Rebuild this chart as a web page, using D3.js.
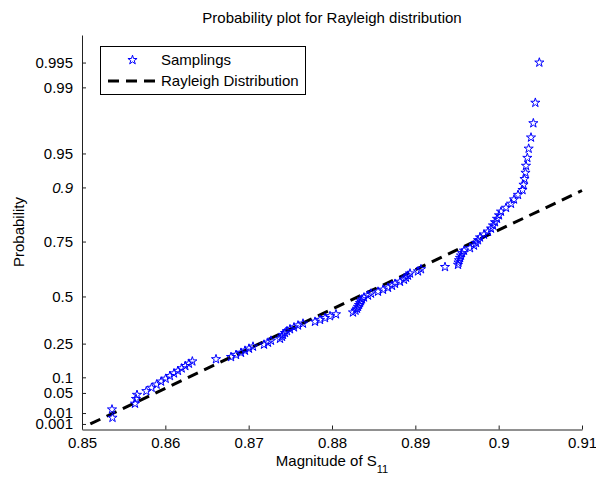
<!DOCTYPE html>
<html>
<head>
<meta charset="utf-8">
<script src="https://cdn.jsdelivr.net/npm/d3@7"></script>
<style>
  body { margin: 0; background: #fff; }
  text { font-family: "Liberation Sans", Arial, sans-serif; }
</style>
</head>
<body>
<div id="chart"></div>
<script>
// sorted sample magnitudes |S11| (100 samplings)
var magnitudes = [
  0.85366, 0.85360, 0.85636, 0.85648, 0.85660, 0.85772, 0.85835, 0.85895, 0.85949, 0.86004,
  0.86055, 0.86104, 0.86151, 0.86196, 0.86240, 0.86283, 0.86324, 0.86608, 0.86788, 0.86848,
  0.86908, 0.86956, 0.87004, 0.87052, 0.87184, 0.87232, 0.87268, 0.87376, 0.87400, 0.87412,
  0.87436, 0.87460, 0.87496, 0.87544, 0.87592, 0.87652, 0.87796, 0.87856, 0.87916, 0.87976,
  0.88048, 0.88252, 0.88282, 0.88300, 0.88312, 0.88324, 0.88336, 0.88348, 0.88360, 0.88384,
  0.88432, 0.88468, 0.88552, 0.88612, 0.88672, 0.88720, 0.88756, 0.88816, 0.88864, 0.88888,
  0.88912, 0.88936, 0.89032, 0.89068, 0.89356, 0.89512, 0.89518, 0.89524, 0.89536, 0.89548,
  0.89560, 0.89584, 0.89656, 0.89704, 0.89728, 0.89752, 0.89776, 0.89824, 0.89872, 0.89908,
  0.89932, 0.89956, 0.89980, 0.90004, 0.90028, 0.90088, 0.90148, 0.90184, 0.90232, 0.90286,
  0.90298, 0.90310, 0.90322, 0.90328, 0.90344, 0.90360, 0.90388, 0.90416, 0.90440, 0.90488
];

// fitted Rayleigh reference line (end points)
var fitX = [0.851, 0.91];
var fitP = [0.001, 0.894];

var probTicks = [0.001, 0.01, 0.05, 0.1, 0.25, 0.5, 0.75, 0.9, 0.95, 0.99, 0.995];
var xTicks = [0.85, 0.86, 0.87, 0.88, 0.89, 0.9, 0.91];

var W = 596, H = 477;
var svg = d3.select("#chart").append("svg")
  .attr("width", W)
  .attr("height", H);

// rayleigh probability paper: sqrt(-2 ln(1-p)) is linear
function tr(p) { return Math.sqrt(-2 * Math.log(1 - p)); }

var x = d3.scaleLinear().domain([0.85, 0.91]).range([82, 582]);
var y = d3.scaleLinear().domain([0, 3.5]).range([429, 35]);

// axes
var yAxis = svg.append("g")
  .attr("transform", "translate(82,0)")
  .call(d3.axisLeft(y)
    .tickValues(probTicks.map(tr))
    .tickFormat(function (d, i) { return String(probTicks[i]); })
    .tickSizeInner(-4)
    .tickSizeOuter(0)
    .tickPadding(9));

yAxis.selectAll("text")
  .style("font-size", "15px")
  .style("font-style", function (d, i) { return probTicks[i] === 0.9 ? "italic" : "normal"; })
  .attr("fill", "#000");

var xAxis = svg.append("g")
  .attr("transform", "translate(0,429.5)")
  .call(d3.axisBottom(x)
    .tickValues(xTicks)
    .tickFormat(d3.format("~g"))
    .tickSizeInner(-4)
    .tickSizeOuter(0)
    .tickPadding(8));

xAxis.selectAll("text")
  .style("font-size", "15px")
  .attr("fill", "#000");

svg.selectAll(".domain, .tick line").attr("stroke", "#222");

// reference line
var line = d3.line()
  .x(function (d) { return x(d[0]); })
  .y(function (d) { return y(tr(d[1])); });

svg.append("path")
  .datum(d3.zip(fitX, fitP))
  .attr("d", line)
  .attr("fill", "none")
  .attr("stroke", "#000")
  .attr("stroke-width", 3)
  .attr("stroke-dasharray", "11,7");

// samplings as stars
var star = d3.symbol().type(d3.symbolStar).size(26);
var n = magnitudes.length;

svg.append("g").selectAll("path")
  .data(magnitudes)
  .enter()
  .append("path")
  .attr("d", star)
  .attr("transform", function (d, i) {
    return "translate(" + x(d) + "," + y(tr((i + 0.5) / n)) + ")";
  })
  .attr("fill", "none")
  .attr("stroke", "#0000ff")
  .attr("stroke-width", 1);

// title and labels
svg.append("text")
  .attr("x", 332)
  .attr("y", 23)
  .attr("text-anchor", "middle")
  .style("font-size", "15px")
  .text("Probability plot for Rayleigh distribution");

var xl = svg.append("text")
  .attr("x", 332)
  .attr("y", 466)
  .attr("text-anchor", "middle")
  .style("font-size", "15px");
xl.append("tspan").text("Magnitude of S");
xl.append("tspan").attr("dy", 7).style("font-size", "11px").text("11");

svg.append("text")
  .attr("transform", "translate(24,232) rotate(-90)")
  .attr("text-anchor", "middle")
  .style("font-size", "15px")
  .text("Probability");

// legend
var lg = svg.append("g");
lg.append("rect")
  .attr("x", 100.5).attr("y", 46.5)
  .attr("width", 205).attr("height", 48)
  .attr("fill", "#fff")
  .attr("stroke", "#000");

lg.append("path")
  .attr("d", star)
  .attr("transform", "translate(132.5,60)")
  .attr("fill", "none")
  .attr("stroke", "#0000ff");

lg.append("line")
  .attr("x1", 108).attr("x2", 155)
  .attr("y1", 81).attr("y2", 81)
  .attr("stroke", "#000")
  .attr("stroke-width", 3)
  .attr("stroke-dasharray", "11,7");

lg.append("text").attr("x", 161).attr("y", 65)
  .style("font-size", "15px").text("Samplings");
lg.append("text").attr("x", 161).attr("y", 86)
  .style("font-size", "15px").text("Rayleigh Distribution");
</script>
</body>
</html>
